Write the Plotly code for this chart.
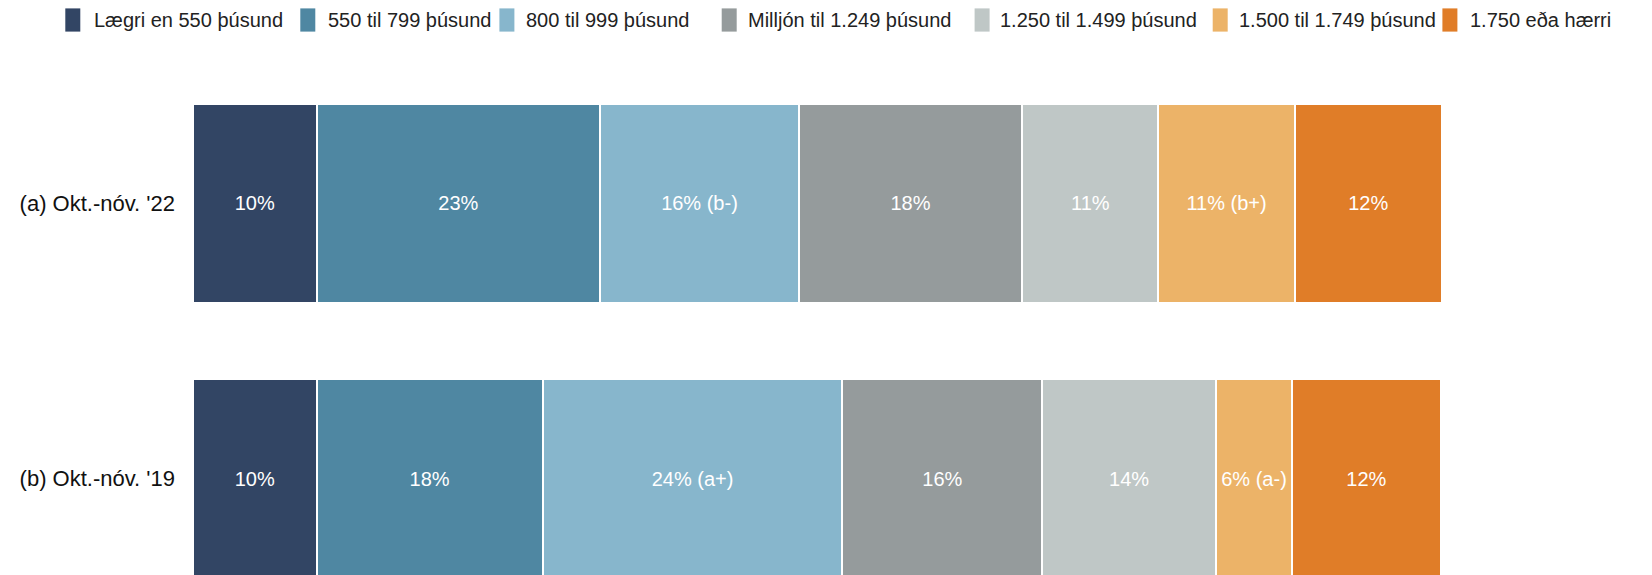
import plotly.graph_objects as go

# Survey periods (rows) and income brackets (stacked segments)
periods = ["(a) Okt.-nóv. '22", "(b) Okt.-nóv. '19"]
brackets = [
    "Lægri en 550 þúsund",
    "550 til 799 þúsund",
    "800 til 999 þúsund",
    "Milljón til 1.249 þúsund",
    "1.250 til 1.499 þúsund",
    "1.500 til 1.749 þúsund",
    "1.750 eða hærri",
]
colors = ["#324564", "#4f87a2", "#87b6cc", "#959b9c", "#bfc7c6", "#ecb368", "#e07d28"]

# Share (%) per bracket for each period
share_22 = [9.9, 22.7, 15.9, 17.9, 10.9, 10.9, 11.8]
share_19 = [9.9, 18.1, 24.0, 16.0, 13.9, 6.1, 11.9]

# Significance markers appended to the value labels
sig_22 = ["", "", " (b-)", "", "", " (b+)", ""]
sig_19 = ["", "", " (a+)", "", "", " (a-)", ""]

W, H = 1652, 575
ML, MR, MT, MB = 193, 210, 60, 0
PW, PH = W - ML - MR, H - MT - MB
FONT = "Liberation Sans, Arial, sans-serif"

fig = go.Figure()
for i, name in enumerate(brackets):
    vals = [share_22[i], share_19[i]]
    labels = [f"{round(share_22[i])}%{sig_22[i]}", f"{round(share_19[i])}%{sig_19[i]}"]
    fig.add_trace(go.Bar(
        x=vals, y=periods, orientation="h", name=name,
        marker=dict(color=colors[i], line=dict(color="white", width=2)),
        text=labels, textposition="inside", insidetextanchor="middle",
        textfont=dict(color="white", size=20, family=FONT),
        constraintext="none", showlegend=False, hoverinfo="skip",
    ))


def px_x(p):
    return (p - ML) / PW


def px_y(p):
    return (H - MB - p) / PH


# Legend row across the top
swatch_left = [65.3, 300.3, 499.4, 721.7, 974.6, 1212.7, 1442.4]
text_left = [91.7, 325.6, 523.6, 746.0, 997.8, 1236.9, 1467.6]
shapes, annotations = [], []
for i, name in enumerate(brackets):
    shapes.append(dict(
        type="rect", xref="paper", yref="paper",
        x0=px_x(swatch_left[i]), x1=px_x(swatch_left[i] + 15),
        y0=px_y(31.6), y1=px_y(8.4),
        fillcolor=colors[i], line=dict(width=0), layer="above",
    ))
    annotations.append(dict(
        text=name, xref="paper", yref="paper",
        x=px_x(text_left[i]), y=px_y(20), xanchor="left", yanchor="middle",
        showarrow=False, font=dict(size=20, color="#222222", family=FONT),
    ))

# Row spacing: bar centres 275 px apart, plot area starts 60 px from the top
unit = 275.3
top_val = -(203.35 - MT) / unit
bot_val = (H - MB - 203.35) / unit

fig.update_layout(
    width=W, height=H,
    margin=dict(l=ML, r=MR, t=MT, b=MB),
    barmode="stack", bargap=1 - 199.5 / unit,
    plot_bgcolor="white", paper_bgcolor="white",
    font=dict(family=FONT),
    shapes=shapes, annotations=annotations,
    xaxis=dict(range=[0, 100], visible=False, fixedrange=True),
    yaxis=dict(
        type="category", categoryarray=periods, range=[bot_val, top_val],
        showgrid=False, zeroline=False, showline=False, ticks="",
        ticklabelstandoff=17,
        tickfont=dict(size=22, color="#111111", family=FONT),
    ),
)

fig.write_html("out.html", config={"displayModeBar": False})
